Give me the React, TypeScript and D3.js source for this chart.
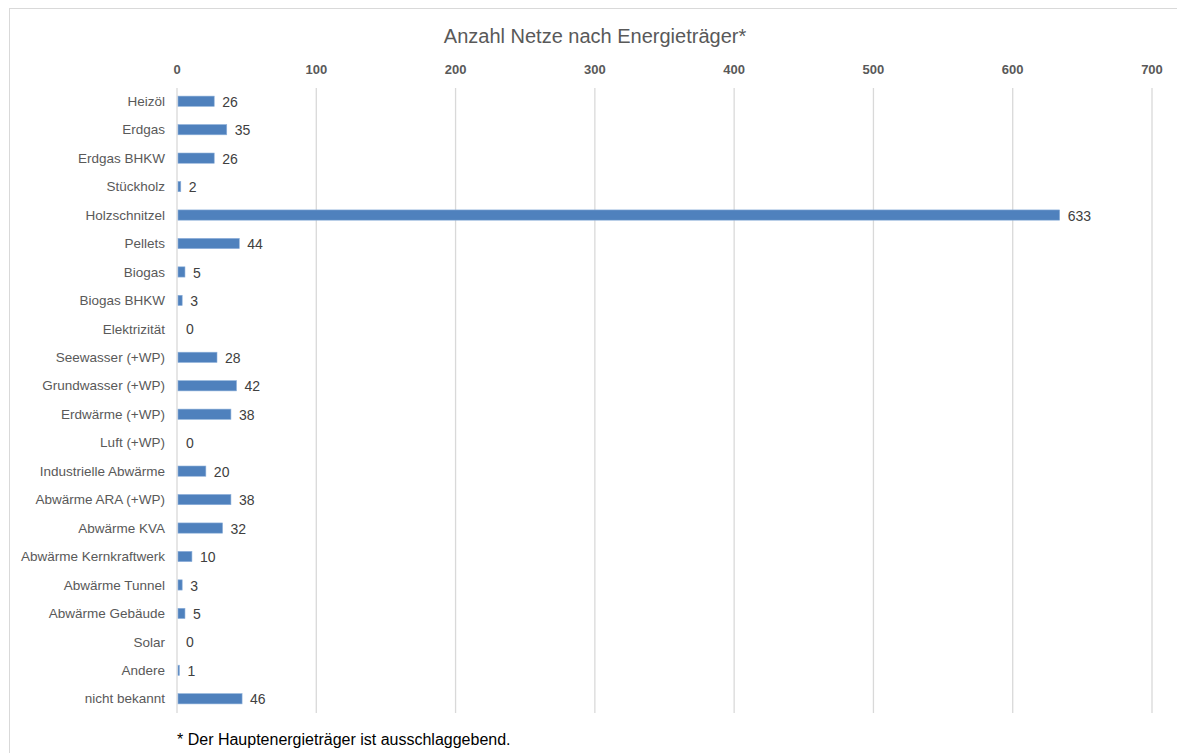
import React from "react";
import * as d3 from "d3";

const categories = [
  "Heizöl", "Erdgas", "Erdgas BHKW", "Stückholz", "Holzschnitzel", "Pellets",
  "Biogas", "Biogas BHKW", "Elektrizität", "Seewasser (+WP)", "Grundwasser (+WP)",
  "Erdwärme (+WP)", "Luft (+WP)", "Industrielle Abwärme", "Abwärme ARA (+WP)",
  "Abwärme KVA", "Abwärme Kernkraftwerk", "Abwärme Tunnel", "Abwärme Gebäude",
  "Solar", "Andere", "nicht bekannt",
];
const values = [26, 35, 26, 2, 633, 44, 5, 3, 0, 28, 42, 38, 0, 20, 38, 32, 10, 3, 5, 0, 1, 46];
const ticks = [0, 100, 200, 300, 400, 500, 600, 700];
const title = "Anzahl Netze nach Energieträger*";
const footnote = "* Der Hauptenergieträger ist ausschlaggebend.";

const FONT = "'Liberation Sans', Arial, sans-serif";

export default function App() {
  const W = 1177, H = 753;
  const x = d3.scaleLinear().domain([0, 700]).range([177, 1152]);
  const y = d3.scaleBand().domain(categories).range([87, 713]).paddingInner(0.64).paddingOuter(0.32);
  return (
    <svg width={W} height={H} style={{ position: "absolute", left: 0, top: 0, background: "#fff" }}>
      <rect x={9.5} y={8.5} width={1200} height={800} fill="#fff" stroke="#d9d9d9" />
      <text x={595} y={43} textAnchor="middle" fontFamily={FONT} fontSize={20} fill="#595959">{title}</text>
      {ticks.map((t) => (
        <g key={t}>
          <line x1={x(t)} x2={x(t)} y1={88} y2={713} stroke="#d9d9d9" strokeWidth={1.3} />
          <text x={x(t)} y={74} textAnchor="middle" fontFamily={FONT} fontSize={13} fontWeight="bold" fill="#595959">{t}</text>
        </g>
      ))}
      {categories.map((c, i) => {
        const yy = y(c)!;
        const bw = y.bandwidth();
        const v = values[i];
        return (
          <g key={c}>
            <text x={165} y={yy + bw / 2} dy="0.35em" textAnchor="end" fontFamily={FONT} fontSize={13.5} fill="#595959">{c}</text>
            {v > 0 && (
              <rect x={x(0) + 1} y={yy} width={x(v) - x(0)} height={bw} fill="#4f81bd" stroke="#8eb0da" strokeWidth={0.6} />
            )}
            <text x={x(v) + 9} y={yy + bw / 2} dy="0.4em" fontFamily={FONT} fontSize={14} fill="#404040">{v}</text>
          </g>
        );
      })}
      <text x={177} y={745} fontFamily={FONT} fontSize={16} fill="#000">{footnote}</text>
    </svg>
  );
}
